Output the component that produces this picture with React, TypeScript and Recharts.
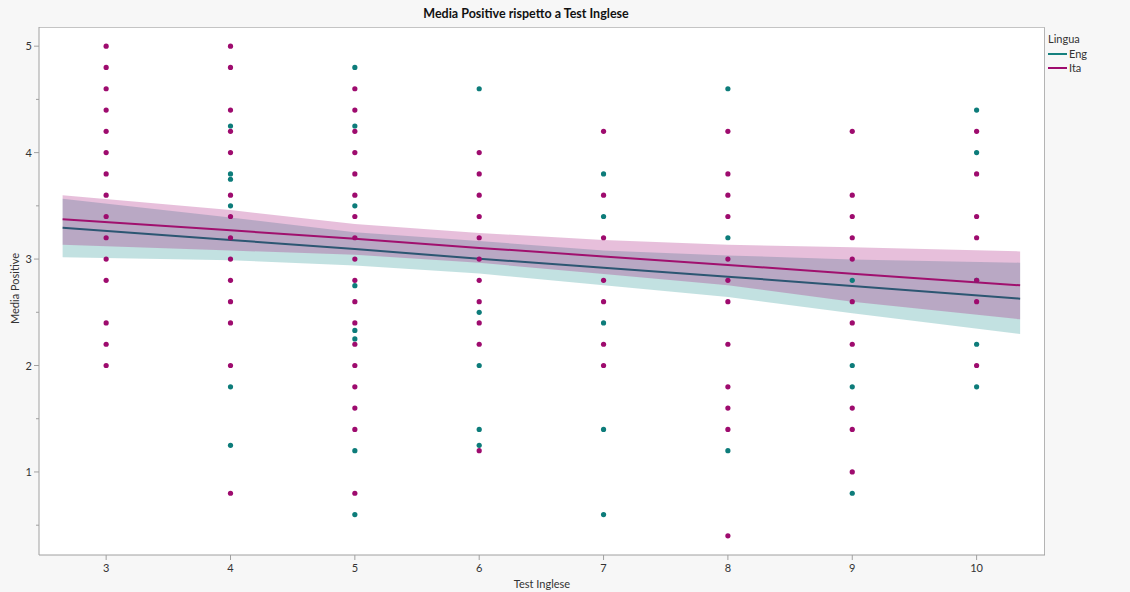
import {
  ComposedChart,
  XAxis,
  YAxis,
  Area,
  Line,
  Scatter,
} from "recharts";

const scores = [3, 4, 5, 6, 7, 8, 9, 10];

// Media Positive per punteggio del test (Eng)
const engByScore: number[][] = [
  [],
  [4.25, 3.8, 3.75, 3.5, 1.8, 1.25],
  [4.8, 4.25, 3.5, 2.75, 2.33, 2.25, 1.2, 0.6],
  [4.6, 2.5, 2.0, 1.4, 1.25],
  [3.8, 3.4, 2.4, 1.4, 0.6],
  [4.6, 3.2, 1.2],
  [2.8, 2.0, 1.8, 0.8],
  [4.4, 4.0, 2.8, 2.2, 1.8],
];

// Media Positive per punteggio del test (Ita)
const itaByScore: number[][] = [
  [5, 4.8, 4.6, 4.4, 4.2, 4.0, 3.8, 3.6, 3.4, 3.2, 3.0, 2.8, 2.4, 2.2, 2.0],
  [5, 4.8, 4.4, 4.2, 4.0, 3.6, 3.4, 3.2, 3.0, 2.8, 2.6, 2.4, 2.0, 0.8],
  [4.6, 4.4, 4.2, 4.0, 3.8, 3.6, 3.4, 3.2, 3.0, 2.8, 2.6, 2.4, 2.2, 2.0, 1.8, 1.6, 1.4, 0.8],
  [4.0, 3.8, 3.6, 3.4, 3.2, 3.0, 2.8, 2.6, 2.4, 2.2, 1.2],
  [4.2, 3.6, 3.2, 2.8, 2.6, 2.2, 2.0],
  [4.2, 3.8, 3.6, 3.4, 3.0, 2.8, 2.6, 2.2, 1.8, 1.6, 1.4, 0.4],
  [4.2, 3.6, 3.4, 3.2, 3.0, 2.6, 2.4, 2.2, 1.6, 1.4, 1.0],
  [4.2, 3.8, 3.4, 3.2, 2.8, 2.6, 2.0],
];

// rette di regressione e bande di confidenza
const fitX = [2.65, 4, 5, 6, 7, 8, 9, 10.35];
const itaFit = [3.375, 3.27, 3.19, 3.105, 3.025, 2.945, 2.862, 2.753];
const itaUpper = [3.6, 3.46, 3.33, 3.245, 3.18, 3.135, 3.11, 3.072];
const itaLower = [3.135, 3.08, 3.04, 2.965, 2.86, 2.755, 2.6, 2.434];
const engFit = [3.294, 3.18, 3.094, 3.003, 2.918, 2.835, 2.747, 2.628];
const engUpper = [3.566, 3.39, 3.253, 3.17, 3.081, 3.034, 2.997, 2.966];
const engLower = [3.016, 2.99, 2.94, 2.865, 2.753, 2.644, 2.49, 2.297];

const yTicks = [0.5, 1, 1.5, 2, 2.5, 3, 3.5, 4, 4.5, 5];

const ENG = "#0d7c7a";
const ITA = "#9e0b6e";
const FONT = "Lato, 'Noto Sans', sans-serif";

const engPoints = scores.flatMap((s, i) => engByScore[i].map((v) => ({ x: s, y: v })));
const itaPoints = scores.flatMap((s, i) => itaByScore[i].map((v) => ({ x: s, y: v })));

const fitRows = fitX.map((x, i) => ({
  x,
  itaFit: itaFit[i],
  engFit: engFit[i],
  itaBand: [itaLower[i], itaUpper[i]],
  engBand: [engLower[i], engUpper[i]],
}));

const YTick = (props: any) => {
  const { x, y, payload } = props;
  const v = payload.value;
  const major = Number.isInteger(v);
  const ax = x + 8;
  return (
    <g>
      <line x1={ax} x2={ax - (major ? 5 : 3)} y1={y} y2={y} stroke="#a0a0a0" />
      {major && (
        <text x={ax - 7} y={y} dy={4} textAnchor="end" fontSize={11} fill="#333" fontFamily={FONT}>
          {v}
        </text>
      )}
    </g>
  );
};

const dot = (color: string) => (p: any) => <circle cx={p.cx} cy={p.cy} r={2.6} fill={color} />;

export default function App() {
  return (
    <div
      style={{
        position: "absolute",
        left: 0,
        top: 0,
        width: 1130,
        height: 592,
        background: "#f7f7f7",
        fontFamily: FONT,
      }}
    >
      <div
        style={{
          position: "absolute",
          left: 39,
          top: 27,
          width: 1006,
          height: 528,
          background: "#fff",
          borderTop: "1px solid #c4c4c4",
          borderRight: "1px solid #b4b4b4",
          boxSizing: "border-box",
        }}
      />
      <div
        style={{
          position: "absolute",
          left: 0,
          top: 6,
          width: 1052,
          textAlign: "center",
          fontWeight: 700,
          fontSize: 12.5,
          color: "#111",
        }}
      >
        Media Positive rispetto a Test Inglese
      </div>

      <div style={{ position: "absolute", left: 0, top: 0 }}>
        <ComposedChart
          width={1130}
          height={592}
          data={fitRows}
          margin={{ top: 27, right: 85, bottom: 0, left: 0 }}
        >
          <XAxis
            type="number"
            dataKey="x"
            domain={[2.46, 10.55]}
            allowDataOverflow
            ticks={scores}
            height={37}
            tickSize={5}
            tickMargin={4}
            stroke="#a0a0a0"
            tick={{ fontSize: 11, fill: "#333", fontFamily: FONT }}
          />
          <YAxis
            type="number"
            dataKey="y"
            domain={[0.22, 5.18]}
            allowDataOverflow
            ticks={yTicks}
            width={39}
            tickSize={5}
            tickMargin={3}
            tickLine={false}
            stroke="#a0a0a0"
            tick={<YTick />}
          />
          <Area
            dataKey="engBand"
            type="linear"
            fill="#008080"
            fillOpacity={0.24}
            stroke="none"
            dot={false}
            activeDot={false}
            isAnimationActive={false}
          />
          <Area
            dataKey="itaBand"
            type="linear"
            fill="#a0006e"
            fillOpacity={0.25}
            stroke="none"
            dot={false}
            activeDot={false}
            isAnimationActive={false}
          />
          <Line
            dataKey="engFit"
            type="linear"
            stroke="#2c5672"
            strokeWidth={2}
            dot={false}
            activeDot={false}
            isAnimationActive={false}
          />
          <Line
            dataKey="itaFit"
            type="linear"
            stroke="#a0106e"
            strokeWidth={2}
            dot={false}
            activeDot={false}
            isAnimationActive={false}
          />
          <Scatter data={engPoints} fill={ENG} shape={dot(ENG)} isAnimationActive={false} />
          <Scatter data={itaPoints} fill={ITA} shape={dot(ITA)} isAnimationActive={false} />
        </ComposedChart>
      </div>

      <div
        style={{
          position: "absolute",
          left: 8,
          top: 324,
          transform: "rotate(-90deg)",
          transformOrigin: "0 0",
          fontSize: 11,
          color: "#333",
          whiteSpace: "nowrap",
          lineHeight: "14px",
        }}
      >
        Media Positive
      </div>
      <div
        style={{
          position: "absolute",
          left: 39,
          top: 577,
          width: 1006,
          textAlign: "center",
          fontSize: 11,
          color: "#333",
          lineHeight: "14px",
        }}
      >
        Test Inglese
      </div>

      <div style={{ position: "absolute", left: 1048, top: 32, fontSize: 11, color: "#333", lineHeight: "14px" }}>
        <div style={{ marginBottom: 1 }}>Lingua</div>
        {[
          { name: "Eng", color: "#15807e" },
          { name: "Ita", color: ITA },
        ].map((it) => (
          <div key={it.name} style={{ display: "flex", alignItems: "center" }}>
            <div style={{ width: 19, height: 2, background: it.color, marginRight: 2 }} />
            <span>{it.name}</span>
          </div>
        ))}
      </div>
    </div>
  );
}
